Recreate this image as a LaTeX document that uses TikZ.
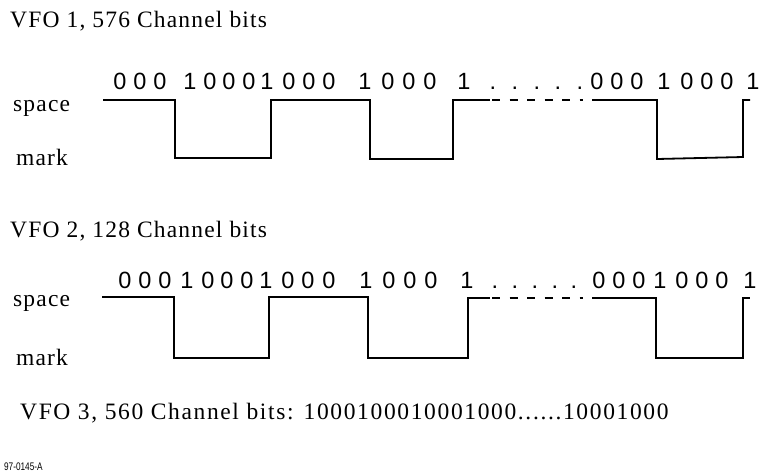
\documentclass[tikz,border=0pt]{standalone}
\usepackage{fontspec}
\newfontfamily\serifsp{Liberation Serif}[LetterSpace=5]
\newfontfamily\serifwide{Liberation Serif}[LetterSpace=7]
\newfontfamily\bitfont{Liberation Sans}
\newfontfamily\codefont{Liberation Sans}
\begin{document}
\begin{tikzpicture}[x=1pt,y=-1pt,
  lbl/.style={font=\serifsp\fontsize{23.5}{27}\selectfont, anchor=base west, inner sep=0pt},
  bit/.style={font=\bitfont\fontsize{23.5}{27}\selectfont, anchor=base, inner sep=0pt},
  code/.style={font=\codefont\fontsize{11}{13}\selectfont, anchor=base west, inner sep=0pt, xscale=0.75, transform shape},
  wave/.style={line width=1.8pt, line join=miter},
  gapline/.style={line width=1.8pt, dash pattern=on 8pt off 9.5pt}]
\useasboundingbox[fill=white] (0,0) rectangle (763,475);

% titles and level labels
\node[lbl] (t1) at (10,27) {VFO 1, 576 Channel bits};
\node[lbl] (s1) at (13,111) {space};
\node[lbl] (m1) at (16,165) {mark};
\node[lbl] (t2) at (10,237) {VFO 2, 128 Channel bits};
\node[lbl] (s2) at (13,306) {space};
\node[lbl] (m2) at (16,365) {mark};
\node[lbl, font=\serifwide\fontsize{23.5}{27}\selectfont] (t3) at (20,419) {VFO 3, 560 Channel bits: 1000100010001000......10001000};
\node[code] (id) at (4,470) {97-0145-A};

% bit labels, VFO 1
\foreach \x/\c [count=\i] in {120/0,140/0,160/0,190/1,210/0,229/0,249/0,267/1,289/0,309/0,329/0,365/1,388/0,409/0,430/0,464/1,493/.,515/.,537/.,558/.,580/.,597/0,617/0,637/0,664/1,687/0,707/0,727/0,753/1}
  \node[bit] (a\i) at (\x,89) {\c};

% bit labels, VFO 2
\foreach \x/\c [count=\i] in {125/0,145/0,165/0,187/1,208/0,227/0,247/0,266/1,288/0,308/0,329/0,366/1,389/0,410/0,431/0,467/1,495/.,515/.,535/.,555/.,574/.,599/0,619/0,639/0,660/1,682/0,702/0,722/0,750/1}
  \node[bit] (b\i) at (\x,288) {\c};

% waveform VFO 1
\draw[wave] (103,100) -- (175,100) -- (175,158) -- (271,158) -- (271,100) -- (370,100)
  -- (370,159) -- (453,159) -- (453,100) -- (490,100);
\draw[gapline] (492,100) -- (583,100);
\draw[wave] (592,100) -- (657,100) -- (657,159) -- (743,157) -- (743,100) -- (750,100);

% waveform VFO 2
\draw[wave] (102,297) -- (174,297) -- (174,358) -- (269,358) -- (269,297) -- (368,297)
  -- (368,358) -- (468,358) -- (468,298) -- (490,298);
\draw[gapline] (492,298) -- (583,298);
\draw[wave] (592,298) -- (656,298) -- (656,358) -- (743,358) -- (743,298) -- (750,298);
\end{tikzpicture}
\end{document}
